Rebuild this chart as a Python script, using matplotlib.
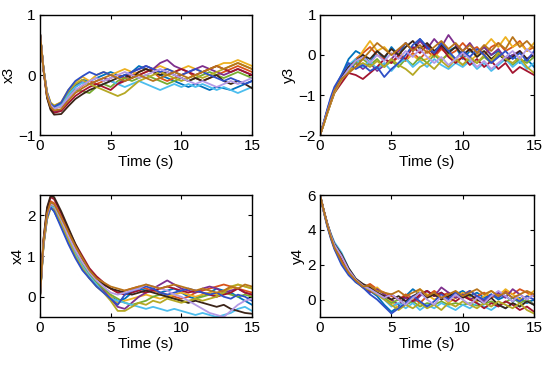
import numpy as np
import matplotlib.pyplot as plt

plt.rcParams['font.family'] = ['Liberation Sans', 'DejaVu Sans']

# shared time grid (s)
t = [0, 0.25, 0.5, 0.75, 1.0,
     1.5, 2, 2.5, 3, 3.5, 4, 4.5, 5, 5.5, 6, 6.5, 7, 7.5, 8, 8.5, 9,
     9.5, 10, 10.5, 11, 11.5, 12, 12.5, 13, 13.5, 14, 14.5, 15]

colors = ['#0072BD', '#D95319', '#EDB120', '#7E2F8E', '#77AC30', '#4DBEEE',
          '#A2142F', '#3B2418', '#B5A824', '#2E4FC7', '#B49AE6', '#B8741A']

x3 = [
    [0.7, 0.1, -0.3, -0.48, -0.53, -0.48, -0.3, -0.18, -0.08, -0.1, -0.05, 0.0, 0.05, 0.0, -0.05, 0.05, 0.15, 0.1, 0.05, 0.0, -0.05, -0.1, -0.15, -0.2, -0.15, -0.2, -0.25, -0.2, -0.22, -0.25, -0.2, -0.15, -0.1],
    [0.7, 0.1, -0.32, -0.5, -0.56, -0.52, -0.38, -0.26, -0.18, -0.1, -0.15, -0.1, -0.05, 0.0, -0.05, 0.0, 0.05, 0.1, 0.05, -0.05, -0.1, -0.05, 0.0, 0.05, -0.05, -0.1, -0.05, 0.0, 0.05, 0.1, 0.15, 0.1, 0.05],
    [0.7, 0.11, -0.28, -0.46, -0.51, -0.45, -0.25, -0.12, -0.03, -0.1, 0.0, 0.05, 0.0, 0.05, 0.1, 0.05, 0.0, 0.05, 0.1, 0.15, 0.1, 0.05, 0.1, 0.15, 0.1, 0.05, 0.1, 0.15, 0.2, 0.2, 0.25, 0.2, 0.15],
    [0.7, 0.09, -0.35, -0.53, -0.61, -0.58, -0.38, -0.2, -0.12, -0.15, -0.1, -0.05, -0.1, -0.15, -0.05, 0.05, 0.1, 0.15, 0.1, 0.2, 0.25, 0.15, 0.1, 0.05, 0.1, 0.15, 0.1, 0.05, 0.0, 0.05, 0.1, 0.05, 0.0],
    [0.7, 0.1, -0.31, -0.49, -0.55, -0.52, -0.35, -0.25, -0.27, -0.3, -0.2, -0.15, -0.2, -0.1, -0.05, -0.1, -0.05, 0.0, -0.05, -0.1, -0.15, -0.1, -0.05, -0.1, -0.05, 0.0, 0.05, 0.0, -0.05, 0.0, 0.05, 0.0, -0.05],
    [0.7, 0.1, -0.32, -0.5, -0.56, -0.5, -0.33, -0.2, -0.13, -0.15, -0.2, -0.15, -0.1, -0.15, -0.2, -0.15, -0.1, -0.15, -0.2, -0.25, -0.2, -0.15, -0.2, -0.15, -0.2, -0.15, -0.2, -0.25, -0.2, -0.25, -0.3, -0.25, -0.2],
    [0.7, 0.08, -0.37, -0.56, -0.63, -0.6, -0.47, -0.35, -0.27, -0.2, -0.15, -0.2, -0.25, -0.15, -0.1, -0.05, 0.0, 0.05, 0.1, 0.05, 0.0, 0.05, 0.1, 0.05, 0.0, 0.05, 0.1, 0.15, 0.1, 0.05, 0.1, 0.05, 0.0],
    [0.7, 0.08, -0.38, -0.58, -0.66, -0.65, -0.52, -0.4, -0.32, -0.25, -0.2, -0.15, -0.1, -0.05, 0.0, -0.05, 0.05, 0.1, 0.05, 0.0, 0.05, 0.0, -0.05, -0.1, -0.05, -0.1, -0.05, 0.0, -0.1, -0.15, -0.1, -0.15, -0.22],
    [0.7, 0.11, -0.29, -0.46, -0.51, -0.46, -0.28, -0.15, -0.08, -0.15, -0.2, -0.25, -0.3, -0.35, -0.3, -0.2, -0.1, -0.05, 0.0, 0.05, 0.0, -0.05, -0.1, -0.05, 0.0, -0.05, 0.0, 0.05, 0.1, 0.15, 0.2, 0.15, 0.1],
    [0.7, 0.1, -0.3, -0.48, -0.53, -0.46, -0.25, -0.1, -0.02, 0.05, 0.0, 0.05, 0.0, -0.05, 0.0, 0.05, 0.1, 0.15, 0.1, 0.05, 0.1, 0.05, 0.0, 0.05, 0.1, 0.05, 0.0, -0.05, -0.1, -0.05, -0.1, -0.15, -0.1],
    [0.7, 0.1, -0.32, -0.5, -0.56, -0.52, -0.38, -0.25, -0.17, -0.1, -0.05, -0.1, -0.05, 0.0, 0.05, 0.0, -0.05, 0.0, 0.05, 0.1, 0.05, 0.0, -0.05, -0.1, -0.15, -0.1, -0.15, -0.2, -0.15, -0.1, -0.15, -0.1, -0.05],
    [0.7, 0.09, -0.35, -0.53, -0.59, -0.57, -0.43, -0.3, -0.22, -0.15, -0.1, -0.05, 0.0, -0.05, -0.1, -0.05, 0.0, -0.05, -0.1, -0.05, 0.0, 0.05, 0.0, -0.05, 0.0, 0.05, 0.1, 0.15, 0.1, 0.15, 0.2, 0.15, 0.1],
]

y3 = [
    [-2, -1.7, -1.4, -1.1, -0.85, -0.5, -0.1, 0.1, 0.0, -0.2, 0.1, -0.1, 0.2, 0.0, 0.3, 0.1, 0.4, 0.2, 0.0, 0.3, 0.1, 0.2, -0.1, 0.1, 0.0, 0.2, 0.0, 0.1, -0.1, 0.0, -0.2, -0.1, -0.3],
    [-2, -1.72, -1.42, -1.15, -0.9, -0.6, -0.3, -0.1, 0.05, 0.2, 0.0, -0.1, -0.2, -0.05, -0.15, 0.05, -0.1, 0.1, -0.05, 0.15, 0.0, 0.1, 0.3, 0.1, 0.2, 0.0, 0.2, 0.3, 0.1, 0.2, 0.35, 0.1, 0.2],
    [-2, -1.75, -1.45, -1.2, -0.95, -0.65, -0.4, -0.2, 0.1, 0.35, 0.1, 0.2, 0.0, 0.1, -0.1, 0.0, -0.15, -0.1, 0.05, -0.1, 0.0, -0.15, -0.05, -0.15, 0.0, 0.2, 0.4, 0.2, 0.45, 0.2, 0.3, 0.1, 0.3],
    [-2, -1.7, -1.38, -1.1, -0.85, -0.55, -0.35, -0.2, -0.35, -0.2, -0.4, -0.25, -0.1, 0.1, 0.3, 0.1, 0.35, 0.15, 0.4, 0.2, 0.5, 0.25, 0.1, 0.3, 0.05, 0.2, 0.0, 0.15, -0.1, 0.0, 0.1, -0.1, 0.05],
    [-2, -1.73, -1.45, -1.18, -0.92, -0.6, -0.35, -0.2, -0.1, -0.25, -0.1, -0.3, -0.15, -0.3, -0.1, -0.25, -0.05, -0.2, 0.0, -0.15, 0.05, -0.1, -0.25, -0.1, -0.2, -0.05, -0.2, 0.0, -0.1, -0.25, -0.1, -0.2, -0.05],
    [-2, -1.7, -1.4, -1.12, -0.88, -0.55, -0.25, -0.1, -0.3, -0.15, -0.35, -0.2, -0.4, -0.2, -0.1, -0.3, -0.15, -0.3, -0.1, -0.25, -0.35, -0.2, -0.3, -0.15, -0.35, -0.2, -0.4, -0.25, -0.1, -0.3, -0.15, -0.35, -0.2],
    [-2, -1.72, -1.45, -1.2, -0.95, -0.7, -0.45, -0.5, -0.6, -0.45, -0.3, -0.1, -0.2, 0.0, -0.1, 0.2, 0.05, 0.25, 0.0, 0.2, -0.05, -0.2, -0.05, -0.25, -0.1, -0.3, -0.15, -0.35, -0.2, -0.45, -0.3, -0.4, -0.5],
    [-2, -1.71, -1.42, -1.14, -0.88, -0.55, -0.3, -0.15, 0.0, -0.1, 0.1, -0.05, 0.15, 0.0, 0.2, 0.35, 0.15, 0.3, 0.1, 0.25, 0.05, 0.2, 0.0, 0.15, -0.05, 0.1, -0.1, 0.05, -0.15, -0.05, 0.1, -0.1, 0.0],
    [-2, -1.74, -1.47, -1.2, -0.95, -0.62, -0.4, -0.3, -0.2, -0.3, -0.15, -0.3, -0.1, -0.25, -0.35, -0.5, -0.3, -0.2, -0.35, -0.15, -0.3, -0.1, -0.25, -0.05, -0.2, 0.0, -0.15, 0.05, -0.1, -0.2, -0.05, -0.3, -0.45],
    [-2, -1.68, -1.36, -1.05, -0.8, -0.5, -0.2, -0.35, -0.25, -0.4, -0.3, -0.55, -0.35, -0.2, 0.0, 0.25, 0.4, 0.2, 0.05, 0.3, 0.1, -0.1, 0.1, -0.05, 0.15, 0.0, -0.2, -0.05, 0.1, -0.1, 0.05, -0.15, 0.1],
    [-2, -1.71, -1.43, -1.16, -0.9, -0.6, -0.35, -0.15, -0.05, -0.2, 0.0, -0.15, 0.05, -0.1, 0.1, -0.05, 0.15, -0.05, -0.2, -0.05, -0.25, -0.1, 0.05, -0.1, -0.3, -0.15, -0.35, -0.2, -0.05, 0.1, -0.1, 0.15, 0.0],
    [-2, -1.73, -1.44, -1.17, -0.9, -0.6, -0.45, -0.3, -0.1, 0.1, 0.3, 0.15, 0.0, 0.15, 0.3, 0.1, 0.25, 0.05, 0.2, 0.35, 0.15, 0.3, 0.1, 0.25, 0.05, 0.25, 0.1, 0.3, 0.15, 0.45, 0.2, 0.35, 0.15],
]

x4 = [
    [0.0, 1.3, 1.95, 2.2, 2.1, 1.75, 1.35, 1.0, 0.7, 0.45, 0.3, 0.15, 0.0, -0.1, -0.05, 0.1, 0.2, 0.15, 0.2, 0.1, 0.15, 0.2, 0.1, 0.0, -0.05, 0.05, 0.1, 0.2, 0.15, 0.1, 0.0, -0.1, -0.2],
    [0.0, 1.35, 2.05, 2.35, 2.3, 1.95, 1.55, 1.2, 0.9, 0.65, 0.45, 0.3, 0.2, 0.1, 0.15, 0.2, 0.25, 0.2, 0.15, 0.1, 0.05, 0.0, -0.05, 0.0, 0.1, 0.15, 0.2, 0.25, 0.3, 0.25, 0.2, 0.15, 0.1],
    [0.0, 1.25, 1.9, 2.2, 2.15, 1.8, 1.4, 1.05, 0.75, 0.5, 0.3, 0.15, 0.0, -0.15, -0.1, -0.05, 0.0, 0.05, 0.0, -0.05, 0.0, 0.05, 0.1, 0.05, 0.0, 0.05, 0.1, 0.05, 0.15, 0.2, 0.3, 0.25, 0.2],
    [0.0, 1.3, 2.0, 2.3, 2.25, 1.85, 1.45, 1.1, 0.8, 0.55, 0.35, 0.15, -0.05, -0.25, -0.3, -0.15, 0.0, 0.1, 0.2, 0.3, 0.4, 0.3, 0.2, 0.15, 0.1, 0.2, 0.25, 0.2, 0.1, 0.15, 0.2, 0.1, 0.05],
    [0.0, 1.3, 1.98, 2.25, 2.2, 1.85, 1.45, 1.1, 0.8, 0.55, 0.35, 0.2, 0.05, -0.05, -0.15, -0.2, -0.15, -0.1, 0.0, 0.05, 0.0, -0.05, -0.1, -0.15, -0.05, 0.0, 0.05, 0.0, 0.1, 0.05, 0.0, 0.05, 0.0],
    [0.0, 1.28, 1.95, 2.22, 2.18, 1.8, 1.4, 1.05, 0.75, 0.5, 0.3, 0.1, -0.05, -0.1, -0.15, -0.2, -0.25, -0.3, -0.25, -0.3, -0.35, -0.3, -0.35, -0.4, -0.45, -0.4, -0.45, -0.5, -0.45, -0.4, -0.3, -0.25, -0.35],
    [0.0, 1.4, 2.15, 2.45, 2.4, 2.05, 1.65, 1.3, 1.0, 0.7, 0.5, 0.35, 0.2, 0.1, 0.05, 0.1, 0.15, 0.1, 0.15, 0.2, 0.25, 0.2, 0.15, 0.1, 0.15, 0.1, 0.05, 0.0, 0.05, 0.1, 0.2, 0.1, 0.05],
    [0.0, 1.42, 2.2, 2.48, 2.45, 2.1, 1.7, 1.3, 0.95, 0.65, 0.45, 0.3, 0.2, 0.15, 0.1, 0.05, 0.1, 0.15, 0.1, 0.05, 0.0, -0.05, -0.1, -0.15, -0.1, -0.15, -0.2, -0.25, -0.2, -0.3, -0.35, -0.4, -0.42],
    [0.0, 1.25, 1.9, 2.18, 2.15, 1.8, 1.4, 1.0, 0.7, 0.45, 0.25, 0.1, -0.1, -0.35, -0.35, -0.25, -0.15, -0.2, -0.1, -0.15, -0.05, -0.1, -0.15, -0.1, -0.05, -0.1, -0.05, 0.0, 0.1, 0.25, 0.3, 0.25, 0.2],
    [0.0, 1.3, 1.95, 2.2, 2.1, 1.7, 1.3, 0.95, 0.65, 0.45, 0.25, 0.1, -0.05, -0.2, 0.05, 0.15, 0.2, 0.25, 0.2, 0.1, 0.05, 0.1, 0.15, 0.2, 0.15, 0.1, 0.05, 0.1, 0.0, -0.05, 0.05, 0.0, -0.1],
    [0.0, 1.32, 2.0, 2.28, 2.25, 1.9, 1.5, 1.15, 0.85, 0.6, 0.4, 0.25, 0.1, 0.05, 0.1, 0.15, 0.2, 0.3, 0.25, 0.2, 0.15, 0.05, 0.0, -0.1, -0.2, -0.3, -0.4, -0.45, -0.5, -0.35, -0.2, -0.1, -0.05],
    [0.0, 1.35, 2.05, 2.32, 2.28, 1.95, 1.6, 1.25, 0.95, 0.65, 0.45, 0.35, 0.25, 0.2, 0.15, 0.2, 0.25, 0.3, 0.25, 0.2, 0.25, 0.3, 0.25, 0.2, 0.15, 0.2, 0.15, 0.1, 0.15, 0.25, 0.2, 0.3, 0.25],
]

y4 = [
    [6, 5.1, 4.3, 3.6, 3.0, 2.1, 1.5, 1.0, 0.8, 0.5, 0.2, -0.3, -0.7, -0.4, 0.2, 0.6, 0.3, 0.5, 0.2, 0.4, 0.1, 0.3, 0.5, 0.2, 0.4, 0.1, 0.3, 0.0, 0.2, -0.1, 0.1, -0.2, 0.0],
    [6, 5.15, 4.35, 3.7, 3.1, 2.3, 1.6, 1.1, 0.7, 0.9, 0.6, 0.4, 0.2, 0.0, 0.3, 0.1, -0.2, 0.2, 0.5, 0.2, 0.4, 0.1, 0.3, 0.5, 0.2, 0.4, 0.1, 0.3, 0.5, 0.3, 0.6, 0.4, 0.2],
    [6, 5.05, 4.25, 3.55, 2.95, 2.1, 1.5, 1.05, 0.75, 0.5, 0.7, 0.3, -0.1, -0.5, -0.3, 0.0, 0.6, 0.3, 0.0, 0.2, -0.2, 0.1, 0.4, 0.1, -0.1, 0.2, 0.5, 0.2, 0.6, 0.3, 0.0, 0.2, 0.5],
    [6, 5.1, 4.3, 3.6, 3.0, 2.2, 1.55, 1.05, 0.7, 0.4, 0.6, 0.3, 0.0, -0.3, 0.1, -0.2, 0.2, 0.5, 0.2, 0.7, 0.4, 0.1, 0.3, 0.0, 0.2, -0.1, 0.2, 0.4, 0.1, 0.6, 0.3, 0.0, -0.3],
    [6, 5.12, 4.32, 3.62, 3.02, 2.2, 1.6, 1.1, 0.8, 0.6, 0.4, 0.1, -0.2, 0.0, -0.3, -0.1, -0.4, -0.2, -0.3, -0.1, -0.3, -0.2, -0.3, -0.2, -0.35, -0.25, -0.1, -0.3, -0.15, 0.1, -0.2, 0.0, -0.3],
    [6, 5.1, 4.35, 3.8, 3.3, 2.7, 1.8, 1.2, 0.8, 0.5, 0.3, 0.0, -0.4, -0.2, -0.5, -0.2, -0.6, -0.3, -0.5, -0.2, -0.4, -0.6, -0.3, -0.5, -0.2, -0.4, -0.6, -0.3, -0.5, -0.2, -0.4, -0.1, -0.3],
    [6, 5.12, 4.35, 3.65, 3.05, 2.3, 1.65, 1.1, 0.75, 0.5, 0.3, 0.1, 0.3, 0.0, 0.2, -0.1, 0.3, 0.5, 0.2, 0.4, 0.1, -0.1, 0.2, 0.0, -0.2, -0.5, -0.2, -0.4, -0.1, -0.3, -0.6, -0.4, -0.7],
    [6, 5.15, 4.4, 3.75, 3.2, 2.6, 1.8, 1.2, 0.9, 0.7, 0.4, 0.2, 0.0, 0.2, -0.1, 0.2, 0.4, 0.1, 0.3, 0.0, 0.2, 0.4, 0.1, 0.3, 0.0, -0.2, 0.1, -0.3, -0.5, -0.2, -0.4, -0.1, -0.3],
    [6, 5.1, 4.3, 3.6, 3.0, 2.15, 1.55, 1.05, 0.7, 0.55, 0.3, 0.0, -0.3, -0.6, -0.3, -0.5, -0.2, -0.5, -0.3, -0.6, -0.2, -0.4, -0.1, -0.3, -0.5, -0.2, -0.4, -0.1, -0.3, -0.5, -0.2, -0.6, -0.8],
    [6, 5.05, 4.2, 3.5, 2.9, 2.0, 1.4, 1.0, 0.7, 0.3, 0.0, -0.4, -0.8, -0.5, -0.2, 0.2, -0.1, -0.4, -0.1, 0.3, 0.0, 0.4, 0.2, 0.5, 0.2, 0.0, 0.3, 0.1, 0.4, 0.1, -0.1, 0.2, 0.0],
    [6, 5.1, 4.35, 3.7, 3.15, 2.5, 1.7, 1.15, 0.8, 0.6, 0.35, 0.1, 0.3, 0.0, -0.3, 0.1, 0.4, 0.0, -0.3, 0.2, -0.1, 0.3, 0.0, -0.3, 0.1, -0.2, 0.2, 0.5, 0.2, -0.1, 0.3, 0.0, 0.3],
    [6, 5.12, 4.3, 3.6, 3.0, 2.2, 1.55, 1.1, 0.75, 0.8, 0.5, 0.4, 0.3, 0.5, 0.2, 0.4, 0.6, 0.2, 0.4, 0.1, 0.3, 0.5, 0.2, 0.4, 0.6, 0.3, 0.5, 0.2, 0.4, 0.1, 0.3, 0.5, 0.3],
]

panels = [
    (x3, 'x3', (-1, 1), [-1, 0, 1], [0.0727, 0.630, 0.3855, 0.329]),
    (y3, 'y3', (-2, 1), [-2, -1, 0, 1], [0.582, 0.630, 0.389, 0.329]),
    (x4, 'x4', (-0.5, 2.5), [0, 1, 2], [0.0727, 0.1315, 0.3855, 0.334]),
    (y4, 'y4', (-1, 6), [0, 2, 4, 6], [0.582, 0.1315, 0.389, 0.334]),
]

fig = plt.figure(figsize=(5.5, 3.65), dpi=100)
for series, name, ylim, yticks, pos in panels:
    ax = fig.add_axes(pos)
    for i, s in enumerate(series):
        assert len(s) == len(t), (name, i, len(s))
        ax.plot(t, s, color=colors[i % len(colors)], linewidth=1.3)
    ax.set_xlim(0, 15)
    ax.set_ylim(*ylim)
    ax.set_xticks([0, 5, 10, 15])
    ax.set_yticks(yticks)
    ax.set_xlabel('Time (s)', fontsize=11, labelpad=1)
    ax.set_ylabel(name, fontsize=11, labelpad=2)
    ax.tick_params(direction='in', top=True, right=True, length=3,
                   width=0.8, labelsize=11, pad=3)
    for sp in ax.spines.values():
        sp.set_linewidth(1.0)

fig.savefig('out.png', dpi=100)
